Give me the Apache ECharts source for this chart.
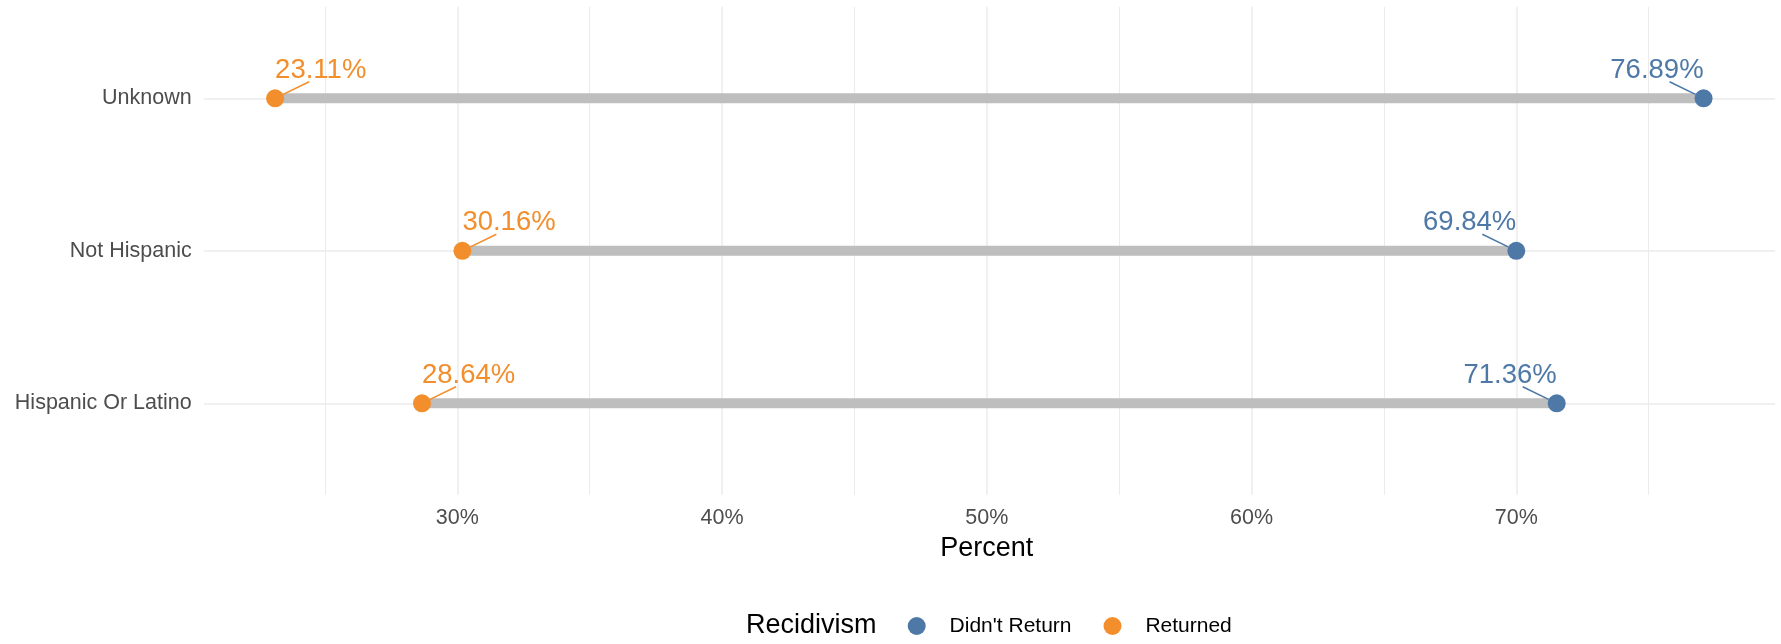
<!DOCTYPE html>
<html><head><meta charset="utf-8">
<script src="https://cdn.jsdelivr.net/npm/echarts@6/dist/echarts.min.js"></script>
<style>html,body{margin:0;padding:0;background:#fff}#c{width:1781px;height:644px}</style>
</head><body><div id="c"></div>
<script>
// ---- data ----
const categories = ['Hispanic Or Latino', 'Not Hispanic', 'Unknown'];
const didntReturn = [71.36, 69.84, 76.89];
const returned = [28.64, 30.16, 23.11];
const seriesNames = ["Didn't Return", 'Returned'];
const legendTitle = 'Recidivism';
const axisTitle = 'Percent';
const tickStep = 10;

// ggplot-like 5% expansion of the data range
const allVals = didntReturn.concat(returned);
const dMin = Math.min.apply(null, allVals), dMax = Math.max.apply(null, allVals);
const pad = (dMax - dMin) * 0.05;
const xMin = dMin - pad, xMax = dMax + pad;
// tick axis uses multiples of the step; its grid is widened so both scales coincide
const tMin = Math.floor(xMin / tickStep) * tickStep;
const tMax = Math.ceil(xMax / tickStep) * tickStep;

const FONT = '"Liberation Sans", Arial, sans-serif';
const BLUE = '#4E79A7', ORANGE = '#F28E2B', SEG = '#BEBEBE', GRID = '#EBEBEB';

const W = 1781;
const L = 203.7, R = 6;
const k = (W - L - R) / (xMax - xMin);
const L0 = L - (xMin - tMin) * k;
const R0 = R - (tMax - xMax) * k;
const SYM = 18;

const chart = echarts.init(document.getElementById('c'), null, {renderer: 'canvas'});

function pointSeries(name, vals, color, align) {
  return {
    name: name, type: 'scatter', xAxisIndex: 1, yAxisIndex: 1,
    data: vals.map((v, i) => [v, categories[i]]),
    symbol: 'circle', symbolSize: SYM,
    itemStyle: {color: color, opacity: 1},
    label: {
      show: true, position: 'top', align: align, distance: 8, offset: [0, 3],
      formatter: p => p.value[0].toFixed(2) + '%',
      color: color, fontSize: 27.5, fontFamily: FONT
    },
    z: 3
  };
}

// connector from a point (pixel) toward its label
function connector(p, sgn, color) {
  const ex = p[0] + sgn * 34, ey = p[1] - 16.5;
  const dx = ex - p[0], dy = ey - p[1], len = Math.sqrt(dx * dx + dy * dy);
  const r = SYM / 2;
  return {type: 'line', shape: {x1: p[0] + dx / len * r, y1: p[1] + dy / len * r, x2: ex, y2: ey},
    style: {stroke: color, lineWidth: 1.6}};
}

const option = {
  animation: false,
  backgroundColor: '#fff',
  title: {
    text: legendTitle, left: 746, top: 612, padding: 0,
    textStyle: {fontSize: 27, fontWeight: 'normal', color: '#000', fontFamily: FONT}
  },
  legend: {
    data: seriesNames, left: 907.7, top: 615.5, padding: 0,
    icon: 'circle', itemWidth: 55.8, itemHeight: 18, itemGap: 32,
    selectedMode: false,
    textStyle: {fontSize: 21, color: '#000', fontFamily: FONT}
  },
  grid: [
    {left: L0, right: R0, top: 6.8, bottom: 149.2},
    {left: L, right: R, top: 98.3, bottom: 240.7}
  ],
  xAxis: [
    {
      gridIndex: 0, type: 'value', min: tMin, max: tMax, interval: tickStep,
      axisLine: {show: false}, axisTick: {show: false},
      axisLabel: {showMinLabel: false, showMaxLabel: false, formatter: v => v + '%',
        color: '#4D4D4D', fontSize: 21.5, fontFamily: FONT, margin: 12},
      splitLine: {show: true, showMinLine: false, showMaxLine: false, lineStyle: {color: GRID, width: 1.5}},
      minorTick: {show: false, splitNumber: 2},
      minorSplitLine: {show: true, lineStyle: {color: GRID, width: 1}},
      name: axisTitle, nameLocation: 'middle', nameGap: 40,
      nameTextStyle: {fontSize: 27, color: '#000', fontFamily: FONT}
    },
    {gridIndex: 1, type: 'value', min: xMin, max: xMax, show: false}
  ],
  yAxis: [
    {gridIndex: 0, type: 'value', min: 0, max: 1, show: false},
    {
      gridIndex: 1, type: 'category', data: categories, boundaryGap: false,
      axisLine: {show: false}, axisTick: {show: false},
      axisLabel: {color: '#4D4D4D', fontSize: 21.5, fontFamily: FONT, margin: 12},
      splitLine: {show: true, lineStyle: {color: GRID, width: 1.5}}
    }
  ],
  series: [
    {
      type: 'custom', xAxisIndex: 1, yAxisIndex: 1, silent: true, z: 2,
      data: categories.map((c, i) => [returned[i], didntReturn[i], i]),
      encode: {x: [0, 1], y: 2},
      renderItem: function (params, api) {
        const a = api.coord([api.value(0), api.value(2)]);
        const b = api.coord([api.value(1), api.value(2)]);
        return {type: 'group', children: [
          {type: 'line', shape: {x1: a[0], y1: a[1], x2: b[0], y2: b[1]},
            style: {stroke: SEG, lineWidth: 10, lineCap: 'butt'}},
          connector(a, 1, ORANGE),
          connector(b, -1, BLUE)
        ]};
      }
    },
    pointSeries(seriesNames[0], didntReturn, BLUE, 'right'),
    pointSeries(seriesNames[1], returned, ORANGE, 'left')
  ]
};
chart.setOption(option);
</script></body></html>
